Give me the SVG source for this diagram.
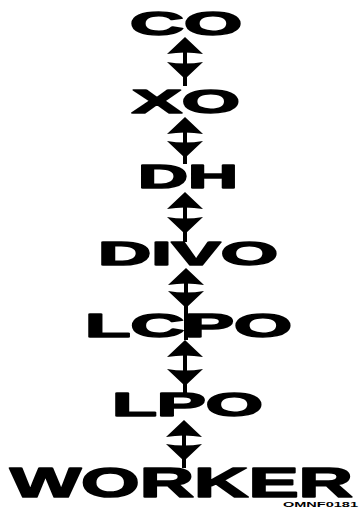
<svg xmlns="http://www.w3.org/2000/svg" width="360" height="508" viewBox="0 0 360 508">
<style>
.lbl{font-family:"Liberation Sans",Arial,sans-serif;font-weight:bold;font-size:34px;fill:#000;stroke:#000;stroke-width:1.6px;stroke-linejoin:round}
.big{font-size:42px}
.tiny{font-family:"Liberation Sans",Arial,sans-serif;font-weight:bold;font-size:7px;fill:#000}
.stem{stroke:#000;stroke-width:4;fill:none}
</style>
<defs>
<path id="up" d="M0,0 L18,17 Q0,14 -18,17 Z" fill="#000"/>
<path id="dn" d="M0,0 L-18,-17 Q0,-14 18,-17 Z" fill="#000"/>
</defs>
<rect width="360" height="508" fill="#fff"/>
<g id="connectors">
<g id="c1"><line class="stem" x1="185" y1="39" x2="185" y2="86"/><use href="#up" x="185" y="37"/><use href="#dn" x="185" y="79"/></g>
<g id="c2"><line class="stem" x1="185" y1="119" x2="185" y2="164"/><use href="#up" x="185" y="117"/><use href="#dn" x="185" y="158"/></g>
<g id="c3"><line class="stem" x1="185" y1="194" x2="185" y2="242"/><use href="#up" x="185" y="192"/><use href="#dn" x="185" y="234"/></g>
<g id="c4"><line class="stem" x1="186" y1="270" x2="186" y2="340"/><use href="#up" x="186" y="268"/><use href="#dn" x="186" y="308"/></g>
<g id="c5"><line class="stem" x1="185" y1="342" x2="185" y2="393"/><use href="#up" x="185" y="340"/><use href="#dn" x="185" y="386"/></g>
<g id="c6"><line class="stem" x1="184" y1="422" x2="184" y2="468"/><use href="#up" x="184" y="420"/><use href="#dn" x="184" y="461"/></g>
</g>
<g id="n-co"><text class="lbl" x="130" y="35" textLength="112" lengthAdjust="spacingAndGlyphs">CO</text></g>
<g id="n-xo"><text class="lbl" x="132" y="113" textLength="108" lengthAdjust="spacingAndGlyphs">XO</text></g>
<g id="n-dh"><text class="lbl" x="138" y="188" textLength="100" lengthAdjust="spacingAndGlyphs">DH</text></g>
<g id="n-divo"><text class="lbl" x="98" y="265" textLength="180" lengthAdjust="spacingAndGlyphs">DIVO</text></g>
<g id="n-lcpo"><text class="lbl" x="85" y="337" textLength="207" lengthAdjust="spacingAndGlyphs">LCPO</text></g>
<g id="n-lpo"><text class="lbl" x="112" y="416" textLength="151" lengthAdjust="spacingAndGlyphs">LPO</text></g>
<g id="n-worker"><text class="lbl big" x="10" y="497" textLength="343" lengthAdjust="spacingAndGlyphs">WORKER</text></g>
<text class="tiny" x="283" y="507" textLength="75" lengthAdjust="spacingAndGlyphs">OMNF0181</text>
</svg>
